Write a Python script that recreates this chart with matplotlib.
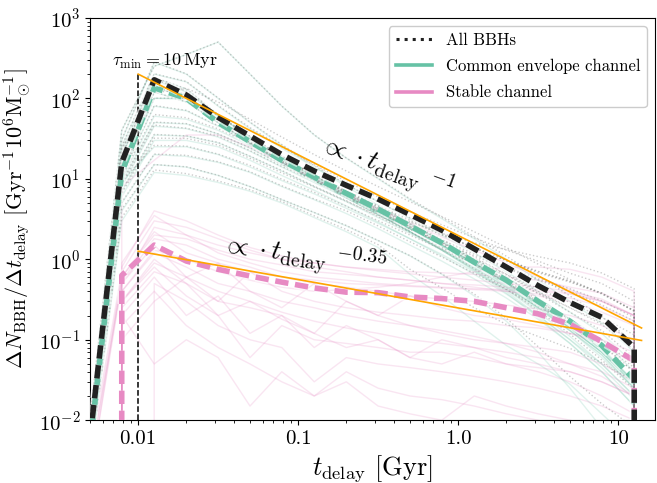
import numpy as np
import matplotlib
matplotlib.use('Agg')
import matplotlib.pyplot as plt
import matplotlib.patheffects as pe
from matplotlib.lines import Line2D
from matplotlib.ticker import FixedLocator, FixedFormatter, NullFormatter

plt.rcParams['font.family'] = 'serif'
plt.rcParams['font.serif'] = ['cmr10']
plt.rcParams['mathtext.fontset'] = 'cm'
plt.rcParams['axes.formatter.use_mathtext'] = True
plt.rcParams['axes.unicode_minus'] = False

# delay time grid [Gyr]; every curve is zero at the last point (drops off)
t_delay = [0.005, 0.0079, 0.0126, 0.02, 0.0316, 0.05, 0.079, 0.126, 0.2, 0.316,
           0.5, 0.79, 1.26, 2.0, 3.16, 5.0, 7.9, 12.6, 20.0]

# thick (fiducial) curves
all_bbh = [0.006, 16, 170, 110, 58, 34, 20, 12.5, 8.3, 5.6, 3.6, 2.3, 1.35, 0.8,
           0.47, 0.29, 0.19, 0.08, 0]
ce_chan = [0.005, 12, 135, 100, 50, 29, 17, 10.5, 6.6, 4.2, 2.6, 1.6, 0.92, 0.55,
           0.3, 0.17, 0.085, 0.032, 0]
stable_chan = [0, 0.63, 1.5, 0.95, 0.75, 0.62, 0.52, 0.44, 0.39, 0.385, 0.34, 0.325,
               0.30, 0.25, 0.21, 0.155, 0.095, 0.055, 0]

# thin lines, one per model variation (first 18 grid points)
ce_models = [
    [0.01, 40, 250, 350, 500, 200, 80, 35, 18, 10, 5.5, 3.2, 1.8, 1.0, 0.55, 0.3, 0.16, 0.07],
    [0.008, 25, 200, 160, 80, 42, 24, 14, 8.5, 5.2, 3.2, 2.0, 1.2, 0.7, 0.4, 0.22, 0.12, 0.05],
    [0.006, 15, 150, 110, 55, 31, 18, 11, 6.8, 4.3, 2.7, 1.7, 1.0, 0.6, 0.33, 0.18, 0.1, 0.04],
    [0.005, 12, 100, 100, 60, 33, 19, 11, 6.5, 4.0, 2.5, 1.5, 0.85, 0.48, 0.26, 0.14, 0.07, 0.03],
    [0.005, 10, 60, 55, 40, 26, 16, 10, 6.2, 3.9, 2.4, 1.5, 0.9, 0.52, 0.29, 0.16, 0.08, 0.03],
    [0.004, 8, 45, 42, 33, 22, 14, 9, 5.8, 3.6, 2.2, 1.35, 0.8, 0.45, 0.25, 0.13, 0.065, 0.025],
    [0.004, 7, 35, 34, 28, 19, 12.5, 8, 5.2, 3.3, 2.1, 1.3, 0.78, 0.45, 0.25, 0.14, 0.07, 0.028],
    [0.003, 6, 30, 30, 25, 17, 11, 7.2, 4.6, 2.9, 1.8, 1.1, 0.65, 0.37, 0.2, 0.1, 0.05, 0.02],
    [0.005, 14, 120, 90, 50, 28, 16, 9.5, 5.8, 3.6, 2.2, 1.3, 0.75, 0.42, 0.22, 0.11, 0.05, 0.02],
    [0.006, 18, 170, 120, 60, 32, 18, 10.5, 6.3, 3.9, 2.4, 1.45, 0.85, 0.47, 0.25, 0.13, 0.06, 0.025],
    [0.004, 9, 25, 25, 20, 14, 9.5, 6.5, 4.3, 2.8, 1.8, 1.15, 0.7, 0.42, 0.24, 0.13, 0.065, 0.025],
    [0.003, 5, 20, 19, 16, 12, 8, 5.5, 3.7, 2.4, 1.5, 0.95, 0.57, 0.33, 0.18, 0.09, 0.04, 0.015],
    [0.003, 4, 15, 14, 11, 8, 5.5, 3.8, 2.6, 1.7, 1.1, 0.65, 0.35, 0.17, 0.07, 0.025, 0.008, 0.003],
    [0.007, 20, 140, 100, 50, 28, 16, 9.5, 5.8, 3.6, 2.2, 1.3, 0.72, 0.38, 0.19, 0.09, 0.04, 0.015],
    [0.006, 16, 100, 98, 55, 30, 17, 10, 6.0, 3.8, 2.4, 1.5, 0.9, 0.5, 0.27, 0.14, 0.07, 0.028],
    [0.005, 11, 80, 70, 45, 27, 16, 9.5, 6.0, 3.8, 2.4, 1.5, 0.9, 0.52, 0.28, 0.15, 0.075, 0.03],
    [0.004, 9, 50, 48, 36, 24, 15, 9.5, 6.0, 3.8, 2.4, 1.5, 0.9, 0.5, 0.27, 0.14, 0.07, 0.027],
    [0.008, 22, 180, 130, 62, 33, 18, 10.5, 6.2, 3.7, 2.2, 1.3, 0.74, 0.4, 0.2, 0.1, 0.045, 0.018],
    [0.003, 3, 12, 11, 9, 7, 5, 3.3, 2.2, 1.4, 0.65, 0.35, 0.17, 0.085, 0.05, 0.028, 0.012, 0.005],
    [0.01, 30, 280, 200, 100, 50, 26, 14, 8.0, 4.7, 2.8, 1.65, 0.95, 0.53, 0.28, 0.15, 0.075, 0.03],
]
stable_models = [
    [0, 0.4, 1.2, 0.8, 0.5, 0.4, 0.3, 0.25, 0.2, 0.17, 0.15, 0.13, 0.11, 0.09, 0.07, 0.05, 0.035, 0.02],
    [0.003, 0.5, 2.5, 2.0, 1.5, 1.2, 1.0, 0.9, 0.8, 0.75, 0.7, 0.68, 0.65, 0.6, 0.55, 0.45, 0.38, 0.25],
    [0, 0.3, 0.8, 0.35, 0.2, 0.06, 0.15, 0.1, 0.09, 0.08, 0.07, 0.07, 0.06, 0.05, 0.045, 0.04, 0.03, 0.02],
    [0, 0, 0.5, 0.3, 0.15, 0.1, 0.08, 0.03, 0.06, 0.05, 0.045, 0.04, 0.035, 0.03, 0.025, 0.02, 0.015, 0.01],
    [0.004, 0.7, 3.0, 2.5, 1.8, 1.3, 1.0, 0.8, 0.7, 0.6, 0.55, 0.5, 0.48, 0.45, 0.42, 0.38, 0.3, 0.2],
    [0, 0.5, 1.5, 0.6, 0.9, 0.4, 0.25, 0.5, 0.3, 0.2, 0.35, 0.25, 0.2, 0.18, 0.15, 0.12, 0.09, 0.05],
    [0, 0.2, 0.6, 0.2, 0.35, 0.12, 0.2, 0.08, 0.15, 0.1, 0.06, 0.1, 0.08, 0.06, 0.05, 0.04, 0.03, 0.02],
    [0.002, 0.6, 2.0, 1.8, 1.3, 1.0, 0.85, 0.7, 0.65, 0.6, 0.55, 0.5, 0.45, 0.4, 0.35, 0.3, 0.22, 0.15],
    [0, 0.15, 0.4, 0.15, 0.08, 0.05, 0.03, 0.02, 0.04, 0.025, 0.02, 0.018, 0.015, 0.012, 0.01, 0.008, 0.006, 0.004],
    [0, 0.8, 4.0, 3.0, 2.0, 1.4, 1.1, 0.9, 0.8, 0.72, 0.66, 0.6, 0.55, 0.5, 0.45, 0.4, 0.32, 0.2],
    [0, 0.3, 1.0, 0.5, 0.3, 0.7, 0.4, 0.3, 0.25, 0.22, 0.2, 0.18, 0.17, 0.15, 0.14, 0.12, 0.1, 0.07],
    [0, 0.1, 0.3, 0.6, 0.3, 0.25, 0.2, 0.12, 0.3, 0.2, 0.15, 0.12, 0.1, 0.09, 0.08, 0.07, 0.05, 0.03],
    [0, 0.2, 0.05, 0.1, 0.06, 0.015, 0.04, 0.02, 0.03, 0.015, 0.012, 0.01, 0.02, 0.015, 0.012, 0.01, 0.008, 0.005],
    [0.002, 0.5, 1.8, 1.5, 1.0, 0.8, 0.6, 0.5, 0.45, 0.4, 0.35, 0.32, 0.3, 0.27, 0.24, 0.2, 0.15, 0.1],
    [0, 8, 17, 35, 35, 25, 16, 10, 6.5, 4.2, 2.8, 1.9, 1.3, 0.9, 0.6, 0.42, 0.3, 0.2],
    [0, 0.4, 1.3, 1.0, 0.7, 0.55, 0.45, 0.4, 0.42, 0.45, 0.5, 0.6, 0.7, 0.8, 0.8, 0.75, 0.6, 0.4],
    [0, 0.25, 0.7, 0.5, 0.2, 0.3, 0.18, 0.12, 0.08, 0.1, 0.06, 0.05, 0.07, 0.05, 0.04, 0.03, 0.02, 0.012],
    [0.003, 0.6, 2.2, 1.2, 0.9, 0.7, 0.6, 0.55, 0.5, 0.48, 0.46, 0.44, 0.42, 0.4, 0.37, 0.33, 0.26, 0.17],
    [0, 0.3, 0.9, 0.6, 0.4, 0.3, 0.22, 0.17, 0.14, 0.12, 0.1, 0.09, 0.08, 0.07, 0.06, 0.05, 0.04, 0.025],
    [0, 0.9, 3.5, 2.0, 1.2, 0.9, 0.7, 0.6, 0.55, 0.5, 0.47, 0.45, 0.43, 0.42, 0.4, 0.37, 0.3, 0.2],
]

# power-law guide lines (end points)
fit1_t = [0.01, 14.0]
fit1_y = [200, 0.14]
fit2_t = [0.01, 14.0]
fit2_y = [1.26, 0.098]

t_min = 0.01
xtick_vals = [0.01, 0.1, 1.0, 10]
xtick_labels = ['0.01', '0.1', '1.0', '10']

teal = '#66c2a5'
pink = '#e78ac3'

fig, ax = plt.subplots(figsize=(6.57, 4.83), dpi=100)
fig.subplots_adjust(left=0.137, right=0.997, bottom=0.13, top=0.963)
ax.set_xscale('log')
ax.set_yscale('log', nonpositive='clip')

t = np.array(t_delay)
ce_m = np.pad(np.array(ce_models, dtype=float), ((0, 0), (0, 1)))
st_m = np.pad(np.array(stable_models, dtype=float), ((0, 0), (0, 1)))

for row in ce_m:
    ax.plot(t, row, color=teal, lw=1, alpha=0.2, zorder=1)
for row in st_m:
    ax.plot(t, row, color=pink, lw=1, alpha=0.22, zorder=1)
for row in ce_m + st_m:
    ax.plot(t, row, color='grey', ls=':', lw=1, alpha=0.4, zorder=2)

halo = [pe.Stroke(linewidth=6.5, foreground='white', alpha=0.6), pe.Normal()]
dash = (0, (2.4, 1.2))
ax.plot(t, ce_chan, color=teal, lw=4, ls=dash, path_effects=halo, zorder=5)
ax.plot(t, stable_chan, color=pink, lw=4, ls=dash, path_effects=halo, zorder=5)
ax.plot(t, all_bbh, color='#222222', lw=4, ls=dash, path_effects=halo, zorder=6)

ax.plot(fit1_t, fit1_y, color='orange', lw=1.2, zorder=7)
ax.plot(fit2_t, fit2_y, color='orange', lw=1.2, zorder=7)

ax.plot([t_min, t_min], [1e-2, 205], color='k', ls='--', lw=1.1, zorder=4)
ax.text(0.0069, 250, r'$\tau_{\rm min} = 10\,{\rm Myr}$', fontsize=13)

ax.text(0.36, 14, r'$\propto \cdot t_{\rm delay}\ {}^{-1}$', fontsize=20,
        rotation=-20, ha='center', va='center')
ax.text(0.11, 1.1, r'$\propto \cdot t_{\rm delay}\ {}^{-0.35}$', fontsize=20,
        rotation=-8, ha='center', va='center')

ax.set_xlim(0.005, 17)
ax.set_ylim(1e-2, 1e3)
ax.xaxis.set_major_locator(FixedLocator(xtick_vals))
ax.xaxis.set_major_formatter(FixedFormatter(xtick_labels))
ax.xaxis.set_minor_formatter(NullFormatter())
ax.tick_params(labelsize=15)

ax.set_xlabel(r'$t_{\rm delay}$ [Gyr]', fontsize=19)
ax.set_ylabel(r'$\Delta N_{\rm BBH}/\Delta t_{\rm delay}$ [Gyr$^{-1}10^6{\rm M}_{\odot}^{-1}$]',
              fontsize=16)

handles = [Line2D([], [], color='#222222', ls=':', lw=2.2),
           Line2D([], [], color=teal, lw=2.6),
           Line2D([], [], color=pink, lw=2.6)]
ax.legend(handles, ['All BBHs', 'Common envelope channel', 'Stable channel'],
          loc='upper right', fontsize=12, framealpha=1, labelspacing=0.65,
          handlelength=2.2)

fig.savefig('out.png', dpi=100)
